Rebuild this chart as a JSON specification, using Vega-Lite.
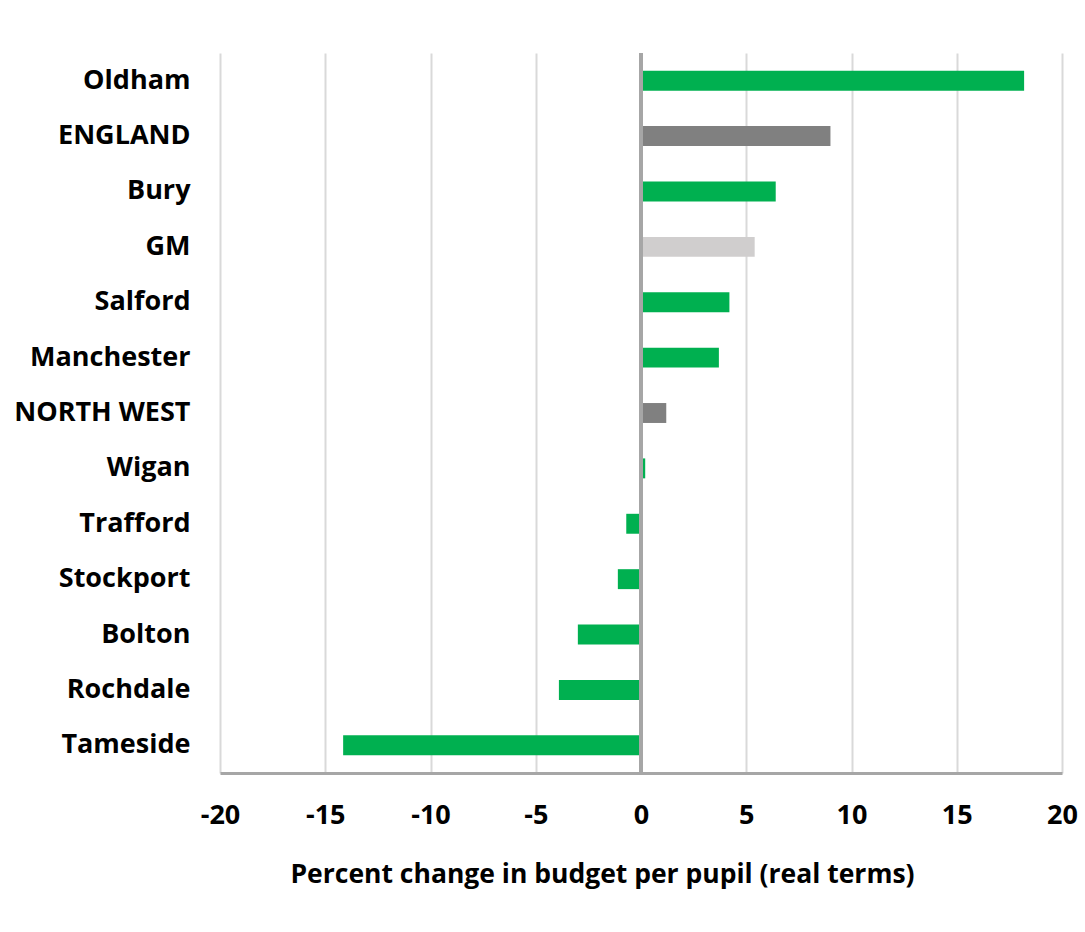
{
  "$schema": "https://vega.github.io/schema/vega-lite/v6.json",
  "width": 842,
  "height": 720,
  "autosize": {"type": "none"},
  "padding": {"left": 220, "top": 53, "right": 23, "bottom": 159},
  "background": "white",
  "config": {
    "view": {"stroke": null},
    "font": "Open Sans"
  },
  "data": {
    "values": [
      {"area": "Oldham", "change": 18.2, "kind": "authority"},
      {"area": "ENGLAND", "change": 9.0, "kind": "national"},
      {"area": "Bury", "change": 6.4, "kind": "authority"},
      {"area": "GM", "change": 5.4, "kind": "combined"},
      {"area": "Salford", "change": 4.2, "kind": "authority"},
      {"area": "Manchester", "change": 3.7, "kind": "authority"},
      {"area": "NORTH WEST", "change": 1.2, "kind": "national"},
      {"area": "Wigan", "change": 0.2, "kind": "authority"},
      {"area": "Trafford", "change": -0.7, "kind": "authority"},
      {"area": "Stockport", "change": -1.1, "kind": "authority"},
      {"area": "Bolton", "change": -3.0, "kind": "authority"},
      {"area": "Rochdale", "change": -3.9, "kind": "authority"},
      {"area": "Tameside", "change": -14.15, "kind": "authority"}
    ]
  },
  "layer": [
    {
      "mark": {"type": "bar"},
      "encoding": {
        "y": {
          "field": "area",
          "type": "nominal",
          "sort": null,
          "scale": {"paddingInner": 0.64, "paddingOuter": 0.32},
          "axis": {
            "title": null,
            "domain": false,
            "ticks": false,
            "grid": false,
            "labelPadding": 30,
            "labelFont": "Open Sans",
            "labelFontWeight": "bold",
            "labelFontSize": 27,
            "labelColor": "#000000",
            "labelLimit": 300
          }
        },
        "x": {
          "field": "change",
          "type": "quantitative",
          "scale": {"domain": [-20, 20], "nice": false, "zero": false},
          "axis": {
            "values": [-20, -15, -10, -5, 0, 5, 10, 15, 20],
            "labelExpr": "toString(datum.value)",
            "title": "Percent change in budget per pupil (real terms)",
            "titleFont": "Open Sans",
            "titleFontWeight": "bold",
            "titleFontSize": 26.5,
            "titleColor": "#000000",
            "titlePadding": 33,
            "titleX": 382,
            "domain": true,
            "domainColor": "#a6a6a6",
            "domainWidth": 3,
            "ticks": false,
            "grid": true,
            "gridColor": "#d9d9d9",
            "gridWidth": 2,
            "labelPadding": 29,
            "labelFont": "Open Sans",
            "labelFontWeight": "bold",
            "labelFontSize": 27,
            "labelColor": "#000000",
            "labelFlush": false
          }
        },
        "color": {
          "field": "kind",
          "type": "nominal",
          "scale": {
            "domain": ["authority", "national", "combined"],
            "range": ["#00b050", "#808080", "#d0cece"]
          },
          "legend": null
        }
      }
    },
    {
      "data": {"values": [{"zero": 0}]},
      "mark": {"type": "rule", "color": "#a6a6a6", "strokeWidth": 4},
      "encoding": {
        "x": {"field": "zero", "type": "quantitative"}
      }
    }
  ]
}
